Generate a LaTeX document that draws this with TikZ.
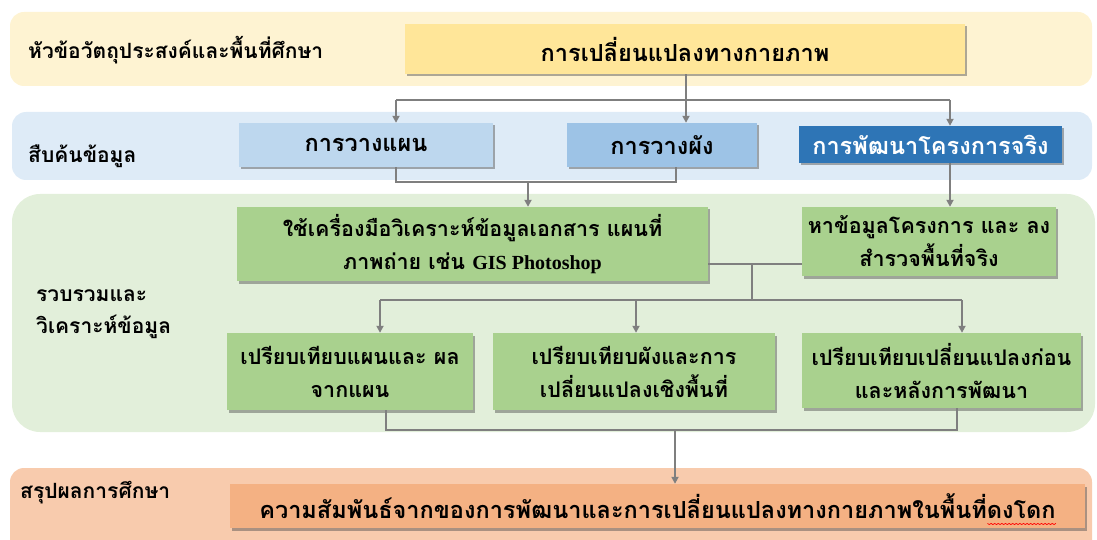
\documentclass[tikz,border=0pt]{standalone}
\usepackage{fontspec}
\setmainfont{Liberation Serif}
\newfontfamily\thai[Script=Thai]{Loma}
\newfontfamily\gisfont{Liberation Serif}
\usetikzlibrary{shadows,arrows.meta}
\definecolor{yband}{HTML}{FEF3D2}
\definecolor{ybox}{HTML}{FFE699}
\definecolor{bband}{HTML}{DEEBF7}
\definecolor{bplan}{HTML}{BDD7EE}
\definecolor{blay}{HTML}{9DC3E6}
\definecolor{bdev}{HTML}{2E75B6}
\definecolor{gband}{HTML}{E2EFDA}
\definecolor{gbox}{HTML}{A9D18E}
\definecolor{oband}{HTML}{F8CBAD}
\definecolor{obox}{HTML}{F4B183}
\definecolor{linegray}{HTML}{7F7F7F}
\newcommand\resfont{\thai\bfseries\fontsize{23.5}{34}\selectfont}
\begin{document}
\begin{tikzpicture}[x=1pt,y=-1pt,
  shadowed/.style={drop shadow={shadow xshift=2pt, shadow yshift=-2.5pt, opacity=0.45, fill=black!70}},
  box/.style={shadowed, inner sep=3pt, align=center, font=\thai\bfseries\fontsize{23.5}{34}\selectfont},
  gbx/.style={box, fill=gbox, font=\thai\bfseries\fontsize{21.5}{33}\selectfont},
  lbl/.style={anchor=west, inner sep=0pt, align=left, font=\thai\bfseries\fontsize{21}{32}\selectfont},
  conn/.style={draw=linegray, line width=1.8pt},
  arr/.style={conn, -{Triangle[width=7pt,length=7pt]}}]
\useasboundingbox (0,0) rectangle (1097,540);
% bands
\fill[yband, rounded corners=14pt] (10,12) rectangle (1092,86);
\fill[bband, rounded corners=14pt] (12,112) rectangle (1092,180);
\fill[gband, rounded corners=28pt] (12,194) rectangle (1095,432);
\fill[oband, rounded corners=14pt] (10,468) rectangle (1092,570);
% labels
\node[lbl] (l1) at (28,50) {หัวข้อวัตถุประสงค์และพื้นที่ศึกษา};
\node[lbl] (l2) at (28,156) {สืบค้นข้อมูล};
\node[lbl] (l3) at (36,314) {รวบรวมและ\\วิเคราะห์ข้อมูล};
\node[lbl] (l4) at (20,493) {สรุปผลการศึกษา};
% boxes
\node[box, fill=ybox, minimum width=560pt, minimum height=50pt] (top) at (685,49) {การเปลี่ยนแปลงทางกายภาพ};
\node[box, fill=bplan, minimum width=254pt, minimum height=44pt] (plan) at (366,145) {การวางแผน};
\node[box, fill=blay, minimum width=190pt, minimum height=44pt] (lay) at (662,145) {การวางผัง};
\node[box, fill=bdev, text=white, minimum width=263pt, minimum height=37pt] (dev) at (930.5,144.5) {การพัฒนาโครงการจริง};
\node[gbx, minimum width=471pt, minimum height=74pt] (tool) at (472.5,244) {ใช้เครื่องมือวิเคราะห์ข้อมูลเอกสาร แผนที่\\ภาพถ่าย เช่น {\gisfont\fontsize{20}{33}\selectfont GIS Photoshop}};
\node[gbx, minimum width=254pt, minimum height=69pt] (survey) at (929,241.5) {หาข้อมูลโครงการ และ ลง\\สำรวจพื้นที่จริง};
\node[gbx, minimum width=246pt, minimum height=77pt] (c1) at (350,371.5) {เปรียบเทียบแผนและ ผล\\จากแผน};
\node[gbx, minimum width=282pt, minimum height=77pt] (c2) at (634,371.5) {เปรียบเทียบผังและการ\\เปลี่ยนแปลงเชิงพื้นที่};
\node[gbx, minimum width=279pt, minimum height=75pt] (c3) at (941.5,370.5) {เปรียบเทียบเปลี่ยนแปลงก่อน\\และหลังการพัฒนา};
\node[shadowed, fill=obox, minimum width=855pt, minimum height=44pt] (res) at (657.5,506) {};
\node[inner sep=0pt, font=\resfont] (rest) at (res.center) {ความสัมพันธ์จากของการพัฒนาและการเปลี่ยนแปลงทางกายภาพในพื้นที่ดงโดก};
% red wavy underline under the last word
\draw[red, line width=0.7pt, line join=round] (rest.base east) ++(0,5)
  \foreach \i in {1,...,19} { -- ++(-1.8,1.2) -- ++(-1.8,-1.2) };
% connectors: top
\coordinate (hL) at (396,100);
\coordinate (hM) at (686,100);
\coordinate (hR) at (950,100);
\draw[conn] (hL) -- (hR);
\draw[arr] (top.south -| hM) -- (lay.north -| hM);
\draw[arr] (hL) -- (plan.north -| hL);
\draw[arr] (hR) -- (dev.north -| hR);
% second level
\coordinate (m1) at (396,182);
\coordinate (m2) at (676,182);
\coordinate (m3) at (528,182);
\draw[conn] (plan.south -| m1) -- (m1) -- (m2) -- (lay.south -| m2);
\draw[arr] (m3) -- (tool.north -| m3);
\draw[arr] (dev.south -| hR) -- (survey.north -| hR);
% third level
\coordinate (k) at (752,264);
\coordinate (k2) at (752,300);
\coordinate (a1) at (380,300);
\coordinate (a2) at (636,300);
\coordinate (a3) at (962,300);
\draw[conn] (tool.east |- k) -- (survey.west |- k);
\draw[conn] (k) -- (k2);
\draw[conn] (a1) -- (a3);
\draw[arr] (a1) -- (c1.north -| a1);
\draw[arr] (a2) -- (c2.north -| a2);
\draw[arr] (a3) -- (c3.north -| a3);
% bottom
\coordinate (b1) at (386,430);
\coordinate (b2) at (957,430);
\coordinate (b3) at (675,430);
\draw[conn] (c1.south -| b1) -- (b1) -- (b2) -- (c3.south -| b2);
\draw[arr] (b3) -- (res.north -| b3);
\end{tikzpicture}
\end{document}
